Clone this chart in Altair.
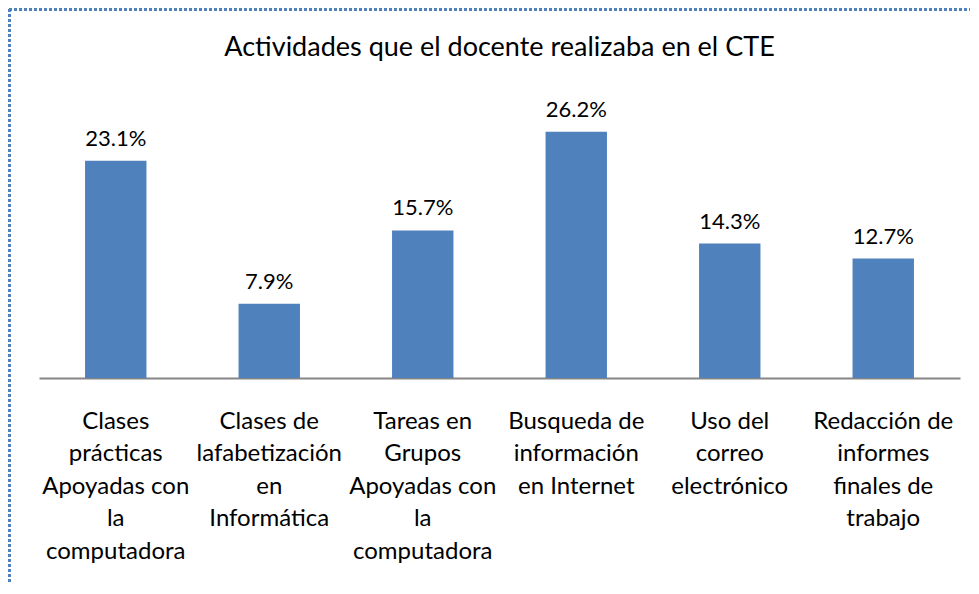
import altair as alt
import pandas as pd

categories = [
    "Clases|prácticas|Apoyadas con|la|computadora",
    "Clases de|lafabetización|en|Informática",
    "Tareas en|Grupos|Apoyadas con|la|computadora",
    "Busqueda de|información|en Internet",
    "Uso del|correo|electrónico",
    "Redacción de|informes|finales de|trabajo",
]
values = [23.1, 7.9, 15.7, 26.2, 14.3, 12.7]
title_text = "Actividades que el docente realizaba en el CTE"

df = pd.DataFrame({"cat": categories, "value": values})

FONT = "Lato"
BLUE = "#4F81BD"
W, H = 921, 282
PL, PT, PR, PB = 31, 88, 10, 205

base = alt.Chart(df)

bars = base.mark_bar(color=BLUE).encode(
    x=alt.X("cat:N", sort=None, title=None,
            scale=alt.Scale(paddingInner=0.6, paddingOuter=0.3),
            axis=alt.Axis(labelAngle=0, labelExpr="split(datum.label, '|')",
                          labelFont=FONT, labelFontSize=24, labelColor="#000000",
                          labelLineHeight=32.5, labelPadding=31, labelBaseline="top",
                          ticks=False, domainColor="#868686", domainWidth=2,
                          labelLimit=300)),
    y=alt.Y("value:Q", scale=alt.Scale(domain=[0, 30]), axis=None),
)

text = base.transform_calculate(
    lab="format(datum.value, '.1f') + '%'"
).mark_text(font=FONT, fontSize=22, color="#000000", dy=-15, baseline="alphabetic").encode(
    x=alt.X("cat:N", sort=None),
    y=alt.Y("value:Q"),
    text="lab:N",
)

one = pd.DataFrame({"k": [0]})
title = alt.Chart(one).mark_text(font=FONT, fontSize=27, color="#000000",
                                 baseline="alphabetic", align="center").encode(
    x=alt.value(W / 2), y=alt.value(-40), text=alt.value(title_text)
)
top_line = alt.Chart(one).mark_rule(color=BLUE, strokeWidth=3, strokeDash=[3, 2]).encode(
    x=alt.value(-PL + 1), x2=alt.value(W + PR), y=alt.value(-PT + 1.5), y2=alt.value(-PT + 1.5)
)
left_line = alt.Chart(one).mark_rule(color=BLUE, strokeWidth=3, strokeDash=[3, 2]).encode(
    x=alt.value(-PL + 1.5), x2=alt.value(-PL + 1.5), y=alt.value(-PT + 1), y2=alt.value(H + PB)
)

chart = alt.layer(bars, text, title, top_line, left_line).properties(
    width=W, height=H,
    autosize=alt.AutoSizeParams(type="none"),
    padding={"left": PL, "top": PT, "right": PR, "bottom": PB},
).configure_view(stroke=None)

chart.save("out.html", embed_options={"renderer": "svg", "actions": False})
